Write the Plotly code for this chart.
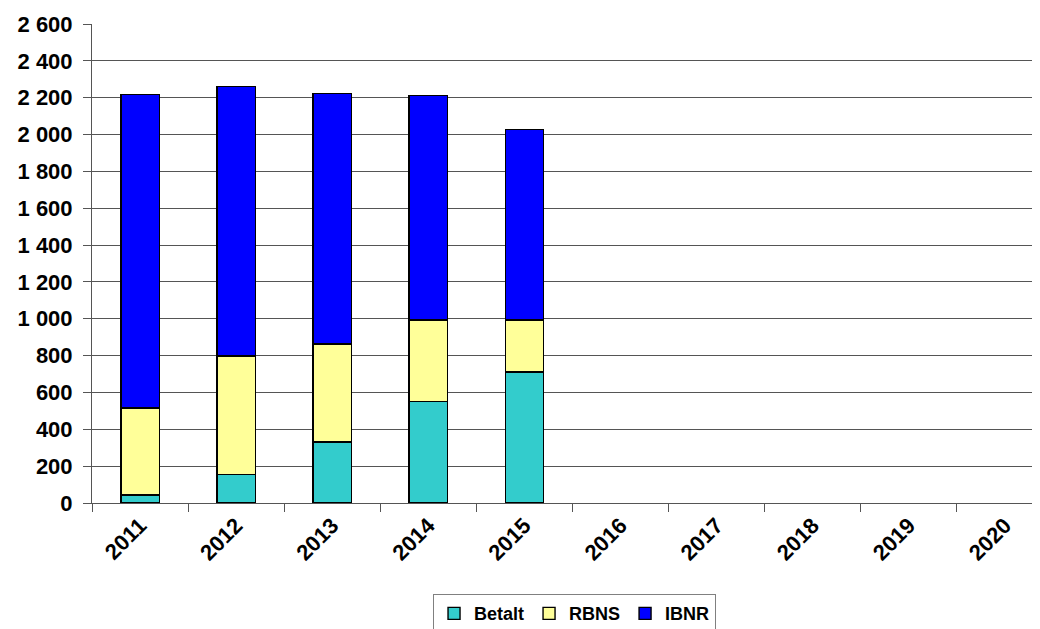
import plotly.graph_objects as go

years = ["2011", "2012", "2013", "2014", "2015", "2016", "2017", "2018", "2019", "2020"]
betalt = [43, 156, 331, 552, 711, None, None, None, None, None]
rbns = [472, 642, 532, 441, 282, None, None, None, None, None]
ibnr = [1702, 1464, 1361, 1220, 1036, None, None, None, None, None]

y_ticks = [0, 200, 400, 600, 800, 1000, 1200, 1400, 1600, 1800, 2000, 2200, 2400, 2600]

font_family = "Arial, Liberation Sans, sans-serif"

fig = go.Figure()
for name, vals, col in [("Betalt", betalt, "#33CCCC"), ("RBNS", rbns, "#FFFF99"), ("IBNR", ibnr, "#0000FF")]:
    fig.add_trace(go.Bar(x=years, y=vals, name=name, width=0.4,
                         marker=dict(color=col, line=dict(color="#000000", width=1.4))))

fig.update_layout(
    barmode="stack",
    width=1032, height=621,
    margin=dict(l=84, r=0, t=16, b=126, autoexpand=False),
    paper_bgcolor="white", plot_bgcolor="white",
    separators=", ",
    font=dict(family=font_family, color="#000000"),
    legend=dict(orientation="h", x=0.509, xanchor="center",
                yref="container", y=0.056, yanchor="top",
                traceorder="normal",
                bordercolor="#808080", borderwidth=1,
                font=dict(size=18, weight="bold", family=font_family),
                tracegroupgap=0),
    xaxis=dict(type="category", range=[-0.5, 9.365], tickangle=-45, automargin=False,
               ticks="outside", tickson="boundaries", ticklen=8, tickcolor="#555555",
               tickfont=dict(size=22, weight="bold", family=font_family),
               showline=True, linecolor="#555555", linewidth=1, showgrid=False),
    yaxis=dict(range=[0, 2600], tickvals=y_ticks, tickformat=",d", automargin=False,
               ticks="outside", ticklen=8, tickcolor="#555555",
               tickfont=dict(size=22, weight="bold", family=font_family),
               showline=True, linecolor="#555555", linewidth=1,
               showgrid=True, gridcolor="#555555", gridwidth=1, zeroline=False,
               ticklabelstandoff=6),
)

fig.write_html("out.html")
